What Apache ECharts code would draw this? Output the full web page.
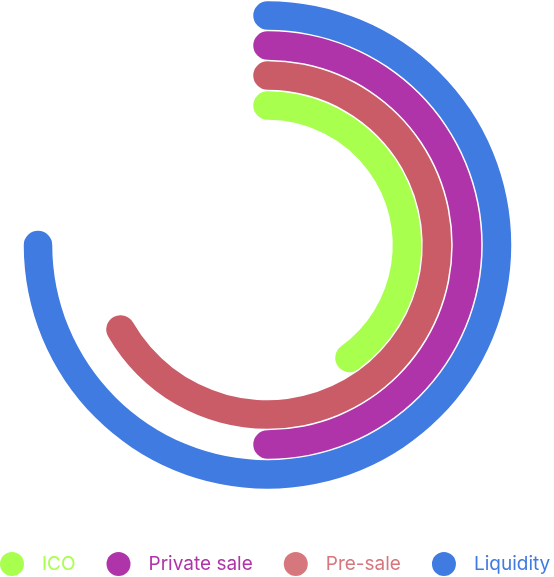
<!DOCTYPE html>
<html>
<head>
<meta charset="utf-8">
<script src="https://cdn.jsdelivr.net/npm/echarts@6/dist/echarts.min.js"></script>
<style>
html,body{margin:0;padding:0;background:#fff;}
#chart{width:554px;height:577px;}
</style>
</head>
<body>
<div id="chart"></div>
<script>
// rings from inner to outer
var ringCategories = ['ICO', 'Pre-sale', 'Private sale', 'Liquidity'];
// legend / series order
var seriesNames = ['ICO', 'Private sale', 'Pre-sale', 'Liquidity'];
// percentage of full circle for each series
var seriesValues = [40, 50, 66.7, 75];
var seriesColors = ['#a9ff4e', '#b034a9', '#c95c66', '#407be1'];
var legendColors = ['#a9ff4e', '#b034a9', '#d6777e', '#407be1'];
var legendTextWidths = [36, 107, 82, 73];

var chart = echarts.init(document.getElementById('chart'), null, {renderer: 'canvas'});

var series = seriesNames.map(function (name, i) {
  return {
    name: name,
    type: 'bar',
    coordinateSystem: 'polar',
    stack: 'rings',
    roundCap: true,
    barWidth: 28.5,
    itemStyle: {color: seriesColors[i]},
    data: ringCategories.map(function (c) { return c === name ? seriesValues[i] : '-'; })
  };
});

chart.setOption({
  animation: false,
  polar: {center: [267.5, 245], radius: [124.5, 244.5]},
  angleAxis: {
    type: 'value', min: 0, max: 100, startAngle: 90, clockwise: true,
    show: false
  },
  radiusAxis: {
    type: 'category', data: ringCategories, show: false
  },
  legend: {
    left: 0,
    top: 552,
    padding: 0,
    width: 800,
    icon: 'circle',
    itemWidth: 24,
    itemHeight: 24,
    itemGap: 31,
    textStyle: {fontFamily: 'Inter', fontSize: 19, padding: [0, 0, 0, 13]},
    data: seriesNames.map(function (n, i) {
      return {
        name: n,
        itemStyle: {color: legendColors[i]},
        textStyle: {color: legendColors[i], width: legendTextWidths[i]}
      };
    })
  },
  series: series
});
</script>
</body>
</html>
